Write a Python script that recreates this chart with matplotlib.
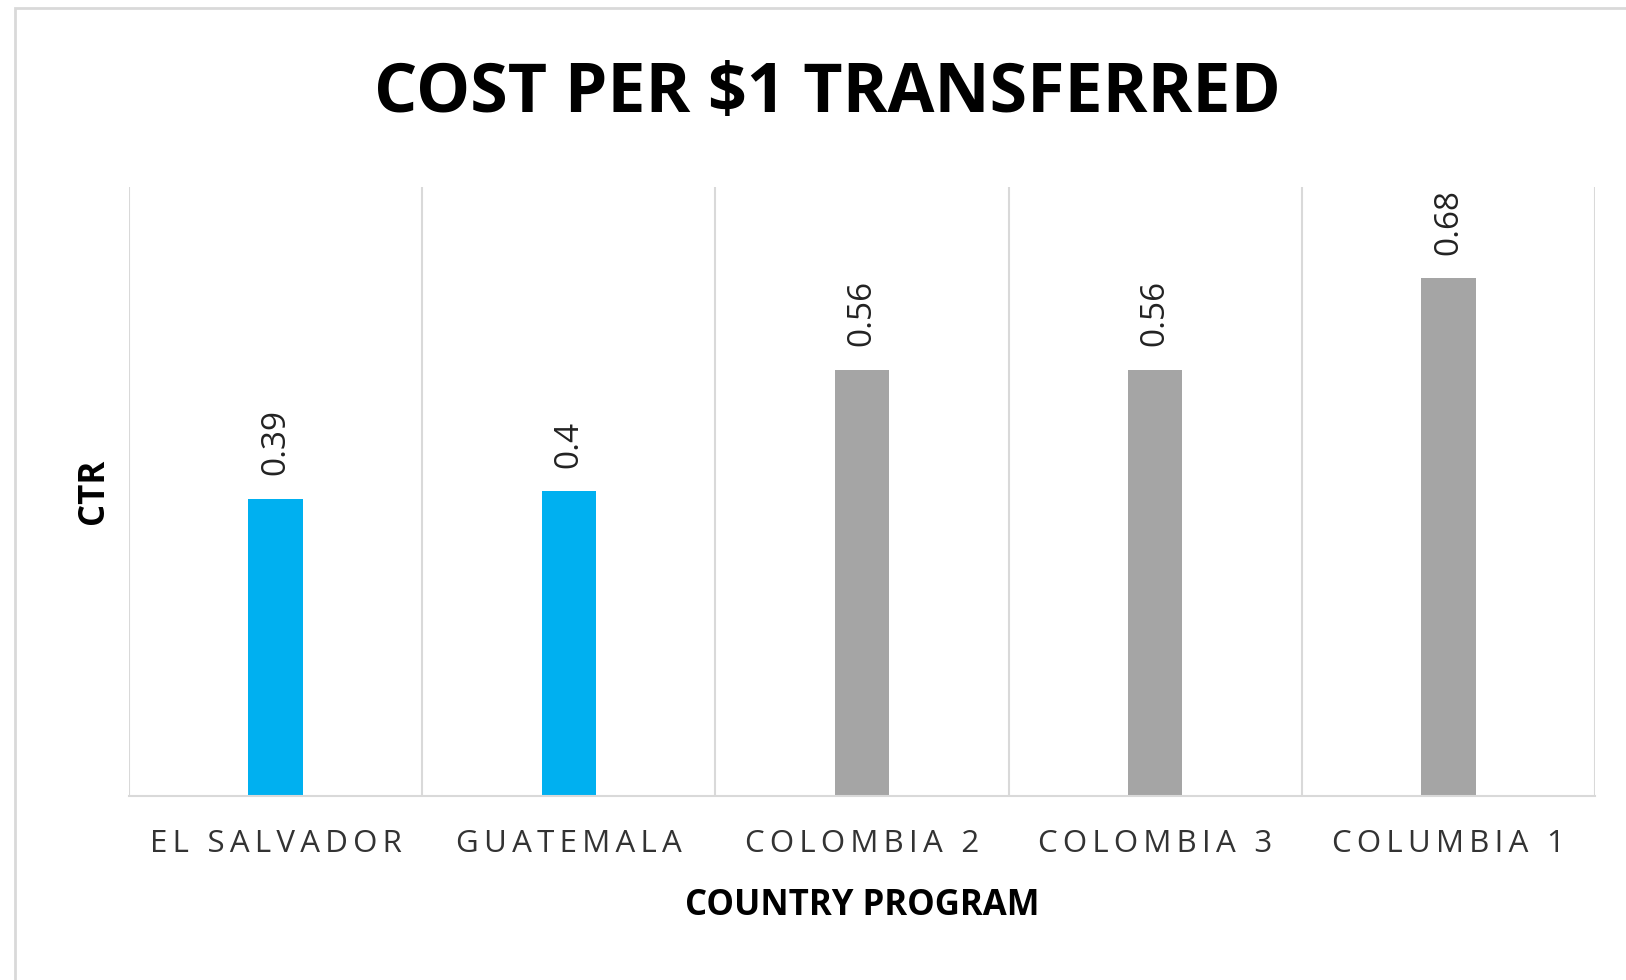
import matplotlib
matplotlib.use("Agg")
from matplotlib import pyplot as plt
from matplotlib.patches import Rectangle
from matplotlib.ticker import FixedLocator

plt.rcParams['font.family'] = ['Open Sans', 'DejaVu Sans']

programs = ["EL SALVADOR", "GUATEMALA", "COLOMBIA 2", "COLOMBIA 3", "COLUMBIA 1"]
cost = [0.39, 0.4, 0.56, 0.56, 0.68]
labels = ["0.39", "0.4", "0.56", "0.56", "0.68"]
colors = ["#00B0F0", "#00B0F0", "#A5A5A5", "#A5A5A5", "#A5A5A5"]

def spaced(s, sep="\u2009"):
    # excel-style letter spacing
    return sep.join(s)

fig = plt.figure(figsize=(16.26, 9.8), dpi=100)
ax = fig.add_axes([0.0793, 0.1878, 0.9017, 0.6214])

x = list(range(len(programs)))
bars = ax.bar(x, cost, width=0.185, color=colors)
ax.bar_label(bars, labels=labels, rotation=90, padding=17, fontsize=24, color="#222222")

ax.set_xlim(-0.5, len(programs) - 0.5)
ax.set_ylim(0, 0.8)
ax.set_yticks([])
ax.set_xticks(x)
ax.set_xticklabels([spaced(p) for p in programs], fontsize=22.5, color="#333333")
ax.tick_params(axis="x", length=0, pad=24)
ax.xaxis.set_minor_locator(FixedLocator([i - 0.5 for i in range(len(programs) + 1)]))
ax.tick_params(axis="x", which="minor", length=0)
ax.grid(axis="x", which="minor", color="#D9D9D9", linewidth=1.5)
for side in ["top", "right", "left"]:
    ax.spines[side].set_visible(False)
ax.spines["bottom"].set_color("#D9D9D9")
ax.spines["bottom"].set_linewidth(1.5)

ax.set_xlabel("COUNTRY PROGRAM", fontsize=25, fontweight="bold", labelpad=21)
ax.set_ylabel("CTR", fontsize=25, fontweight="bold", labelpad=12)

fig.text(0.509, 0.904, "COST PER $1 TRANSFERRED", ha="center", va="center",
         fontsize=49, fontweight="bold")

# chart area border
fig.patches.append(Rectangle((15 / 1626, -0.05), 1.2, 1.05 - 8 / 980,
                             transform=fig.transFigure, fill=False,
                             edgecolor="#D9D9D9", linewidth=2))

fig.savefig("out.png", dpi=100)
